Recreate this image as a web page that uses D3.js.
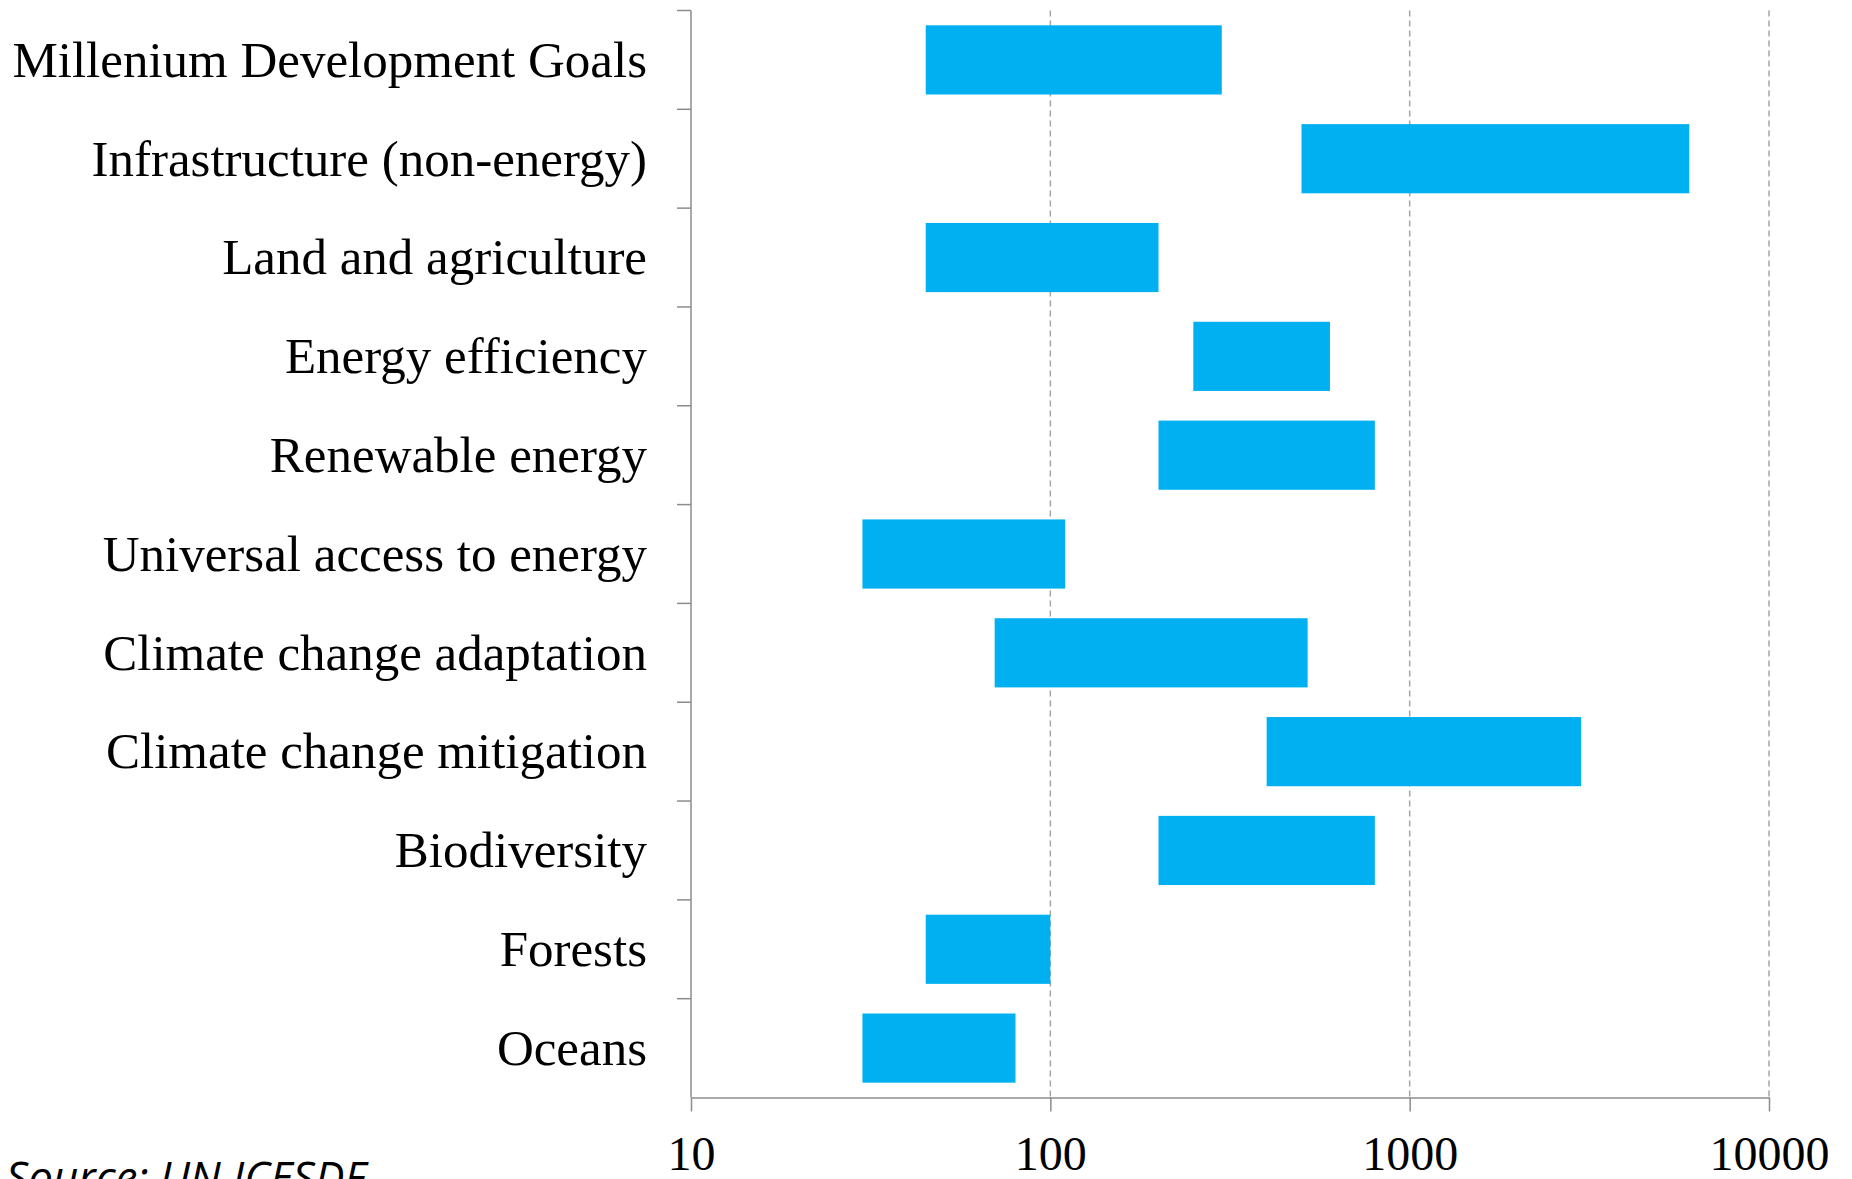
<!DOCTYPE html>
<html>
<head>
<meta charset="utf-8">
<script src="https://cdn.jsdelivr.net/npm/d3@7"></script>
<style>
  html, body { margin: 0; padding: 0; background: #fff; overflow: hidden; }
  svg { display: block; }
</style>
</head>
<body>
<svg id="chart" width="1852" height="1179"></svg>
<script>
// ---- Data ----
const categories = [
  "Millenium Development Goals",
  "Infrastructure (non-energy)",
  "Land and agriculture",
  "Energy efficiency",
  "Renewable energy",
  "Universal access to energy",
  "Climate change adaptation",
  "Climate change mitigation",
  "Biodiversity",
  "Forests",
  "Oceans"
];
const lowValues  = [45, 500, 45, 250, 200, 30, 70, 400, 200, 45, 30];
const highValues = [300, 6000, 200, 600, 800, 110, 520, 3000, 800, 100, 80];
const xTickValues = [10, 100, 1000, 10000];
const sourceText = "Source: UN ICESDF";

// ---- Layout ----
const plotLeft = 691, plotRight = 1769, plotTop = 10.5, plotBottom = 1097.5;

const svg = d3.select("#chart");

const x = d3.scaleLog().domain([10, 10000]).range([plotLeft, plotRight]);
const y = d3.scaleBand().domain(categories).range([plotTop, plotBottom]).paddingInner(0.3).paddingOuter(0.15);
const band = d3.scaleBand().domain(categories).range([plotTop, plotBottom]);

// gridlines (dashed)
svg.append("g")
  .selectAll("line")
  .data(xTickValues.slice(1))
  .join("line")
  .attr("x1", d => x(d)).attr("x2", d => x(d))
  .attr("y1", plotTop).attr("y2", plotBottom)
  .attr("stroke", "#a6a6a6")
  .attr("stroke-width", 1.5)
  .attr("stroke-dasharray", "6,4");

// bars
const rows = categories.map((c, i) => ({ c, lo: lowValues[i], hi: highValues[i] }));
svg.append("g")
  .selectAll("rect")
  .data(rows)
  .join("rect")
  .attr("x", d => x(d.lo))
  .attr("width", d => x(d.hi) - x(d.lo))
  .attr("y", d => y(d.c))
  .attr("height", y.bandwidth())
  .attr("fill", "#00b0f0");

// x axis
const xAxis = d3.axisBottom(x)
  .tickValues(xTickValues)
  .tickFormat(d3.format("d"))
  .tickSize(14)
  .tickSizeOuter(0)
  .tickPadding(24);
const gx = svg.append("g")
  .attr("transform", `translate(0,${plotBottom})`)
  .call(xAxis);
gx.select(".domain").attr("stroke", "#8c8c8c").attr("stroke-width", 1.5);
gx.selectAll(".tick line").attr("stroke", "#8c8c8c").attr("stroke-width", 1.5);
gx.selectAll(".tick text")
  .attr("fill", "#000")
  .style("font-family", "'Liberation Serif', 'Times New Roman', serif")
  .style("font-size", "48px");

// y axis: labels via axis, ticks at band boundaries
const yAxis = d3.axisLeft(band).tickSize(0).tickPadding(44);
const gy = svg.append("g")
  .attr("transform", `translate(${plotLeft},0)`)
  .call(yAxis);
gy.select(".domain").remove();
gy.selectAll(".tick text")
  .attr("fill", "#000")
  .attr("dy", "0.33em")
  .style("font-family", "'Liberation Serif', 'Times New Roman', serif")
  .style("font-size", "51px");

svg.append("line")
  .attr("x1", plotLeft).attr("x2", plotLeft)
  .attr("y1", plotTop).attr("y2", plotBottom)
  .attr("stroke", "#8c8c8c").attr("stroke-width", 1.5);

const boundaries = categories.map(c => band(c));
svg.append("g")
  .selectAll("line")
  .data(boundaries)
  .join("line")
  .attr("x1", plotLeft - 14).attr("x2", plotLeft)
  .attr("y1", d => d).attr("y2", d => d)
  .attr("stroke", "#8c8c8c").attr("stroke-width", 1.5);

// source (partly cut off at the bottom edge, as in the reference)
svg.append("text")
  .attr("x", 6)
  .attr("y", 1193)
  .attr("fill", "#000")
  .style("font-family", "'Open Sans', sans-serif")
  .style("font-style", "italic")
  .style("font-size", "44px")
  .text(sourceText);
</script>
</body>
</html>
